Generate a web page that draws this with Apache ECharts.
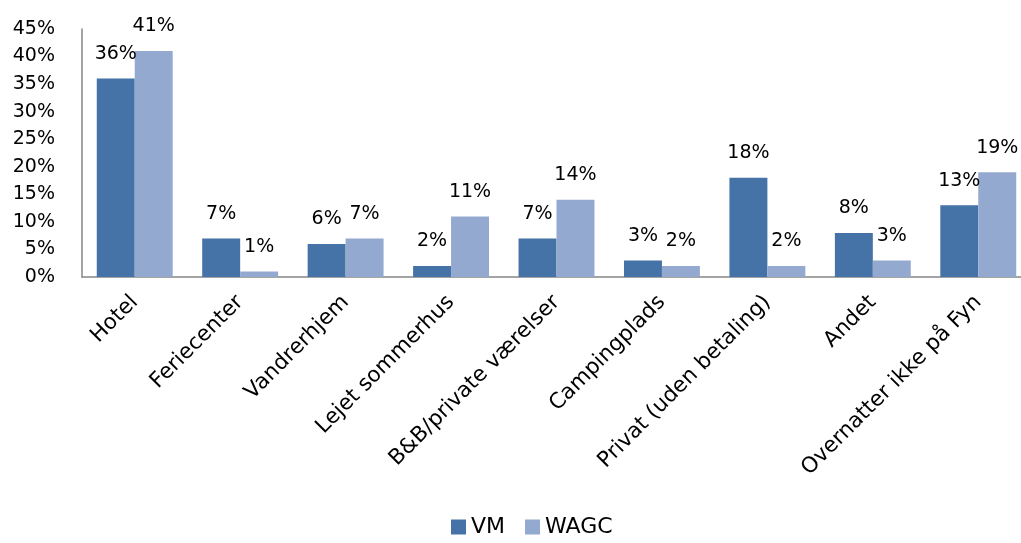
<!DOCTYPE html>
<html><head><meta charset="utf-8">
<script src="https://cdn.jsdelivr.net/npm/echarts@6/dist/echarts.min.js"></script>
<style>html,body{margin:0;padding:0;background:#fff}#c{width:1021px;height:543px}</style>
</head><body><div id="c"></div>
<script>
const categories = ['Hotel','Feriecenter','Vandrerhjem','Lejet sommerhus','B&B/private værelser','Campingplads','Privat (uden betaling)','Andet','Overnatter ikke på Fyn'];
const vm = [36,7,6,2,7,3,18,8,13];
const wagc = [41,1,7,11,14,2,2,3,19];
const yTicks = [0,5,10,15,20,25,30,35,40,45];
const font = '"DejaVu Sans", sans-serif';
const chart = echarts.init(document.getElementById('c'));
chart.setOption({
  animation:false,
  grid:{left:82,top:29,right:-10,bottom:266,containLabel:false,outerBoundsMode:'none'},
  legend:{bottom:0,left:446,itemWidth:15,itemHeight:15,itemGap:20,icon:'rect',
    textStyle:{fontFamily:font,fontSize:22,color:'#000'},data:['VM','WAGC']},
  xAxis:{type:'category',data:categories,
    axisLine:{lineStyle:{color:'#868686',width:1.5}},axisTick:{show:false},
    axisLabel:{rotate:45,interval:0,margin:22,fontFamily:font,fontSize:21.5,color:'#000'}},
  yAxis:{type:'value',min:0,max:45,interval:5,
    axisLine:{show:true,lineStyle:{color:'#868686',width:1.5}},axisTick:{show:false},splitLine:{show:false},
    axisLabel:{formatter:v=>v+'%',margin:27,fontFamily:font,fontSize:19,color:'#000'}},
  series:[
    {name:'VM',type:'bar',data:vm,barGap:'0%',barCategoryGap:'28%',itemStyle:{color:'#4572A7'},
     label:{show:true,position:'top',distance:15,formatter:p=>p.value+'%',fontFamily:font,fontSize:19,color:'#000'}},
    {name:'WAGC',type:'bar',data:wagc,itemStyle:{color:'#93A9CF'},
     label:{show:true,position:'top',distance:15,formatter:p=>p.value+'%',fontFamily:font,fontSize:19,color:'#000'}}
  ]
});
</script></body></html>
